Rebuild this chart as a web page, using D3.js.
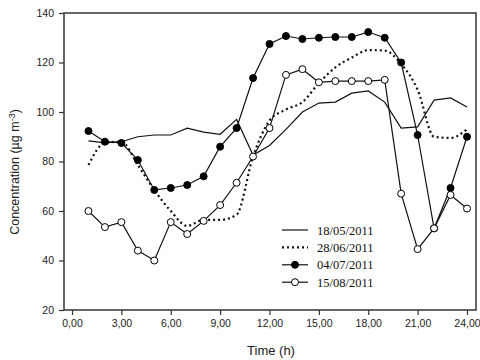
<!DOCTYPE html>
<html>
<head>
<meta charset="utf-8">
<script src="https://cdn.jsdelivr.net/npm/d3@7"></script>
<style>
  body { margin: 0; background: #fff; }
</style>
</head>
<body>
<script>
// hours of the day
const hours = d3.range(1, 25);
const xTicks = [0, 3, 6, 9, 12, 15, 18, 21, 24];
const yTicks = [20, 40, 60, 80, 100, 120, 140];

const s1805 = [88.3, 87.5, 88, 90, 90.7, 90.7, 93.5, 91.9, 91, 97, 82.6, 86.5, 93, 100, 103.6, 104, 107.6, 108.5, 104, 93.5, 94, 104.8, 105.7, 102];
const s2806 = [78.6, 87.5, 88, 78.6, 68.5, 60, 54, 56.4, 56.4, 58.5, 82, 96.5, 101, 104, 111.7, 118, 122, 125, 124.8, 119.4, 109, 90, 89.5, 93];
const s0407 = [92.3, 88, 87.5, 80.6, 68.5, 69.3, 70.5, 74, 86, 93.5, 113.7, 127.5, 130.7, 129.5, 130, 130.3, 130.3, 132.3, 130, 120, 90.7, 53, 69.3, 90];
const s1508 = [60, 53.5, 55.5, 44, 40, 55.5, 50.7, 56, 62.4, 71.4, 82, 93.5, 115, 117.3, 112, 112.5, 112.5, 112.5, 113, 67, 44.6, 53, 66.5, 61];

const series = [
  { name: "18/05/2011", values: s1805, kind: "solid" },
  { name: "28/06/2011", values: s2806, kind: "dotted" },
  { name: "04/07/2011", values: s0407, kind: "filled" },
  { name: "15/08/2011", values: s1508, kind: "open" }
];

const width = 480, height = 360;
const plotL = 64, plotR = 476, plotT = 13, plotB = 310;

const svg = d3.select("body").append("svg")
  .attr("width", width).attr("height", height);

const x = d3.scaleLinear().domain([0, 24]).range([72, 467]);
const y = d3.scaleLinear().domain([20, 140]).range([plotB, plotT]);

// frame
svg.append("rect")
  .attr("x", plotL).attr("y", plotT)
  .attr("width", plotR - plotL).attr("height", plotB - plotT)
  .attr("fill", "none").attr("stroke", "#333").attr("stroke-width", 1.5);

// axes
const xAxis = svg.append("g").attr("transform", "translate(0," + plotB + ")")
  .call(d3.axisBottom(x).tickValues(xTicks).tickSize(5).tickPadding(5)
    .tickFormat(d => d3.format(".2f")(d).replace(".", ",")));
const yAxis = svg.append("g").attr("transform", "translate(" + plotL + ",0)")
  .call(d3.axisLeft(y).tickValues(yTicks).tickSize(5).tickPadding(5));

[xAxis, yAxis].forEach(a => {
  a.select(".domain").remove();
  a.selectAll("line").attr("stroke", "#333").attr("stroke-width", 1.2);
  a.selectAll("text").attr("fill", "#222")
    .style("font-family", "Liberation Sans, Arial, sans-serif")
    .style("font-size", "10.5px");
});

// lines
series.forEach(s => {
  const line = d3.line()
    .x((d, i) => x(hours[i]))
    .y(d => y(d))
    .curve(s.kind == "dotted" ? d3.curveMonotoneX : d3.curveLinear);
  svg.append("path").datum(s.values)
    .attr("d", line)
    .attr("fill", "none")
    .attr("stroke", "#111")
    .attr("stroke-width", s.kind == "dotted" ? 2.2 : 1.2)
    .attr("stroke-dasharray", s.kind == "dotted" ? "2,3" : null);
  if (s.kind == "filled" || s.kind == "open") {
    svg.append("g").selectAll("circle").data(s.values).enter().append("circle")
      .attr("cx", (d, i) => x(hours[i]))
      .attr("cy", d => y(d))
      .attr("r", 3.5)
      .attr("fill", s.kind == "filled" ? "#000" : "#fff")
      .attr("stroke", "#000").attr("stroke-width", 1);
  }
});

// legend
const legend = svg.append("g").attr("transform", "translate(282,230)")
  .selectAll(".legends").data(series).enter().append("g")
  .attr("transform", (d, i) => "translate(0," + i * 17.4 + ")");
legend.append("line")
  .attr("x1", 0).attr("x2", 26).attr("y1", 0).attr("y2", 0)
  .attr("stroke", "#111")
  .attr("stroke-width", d => d.kind == "dotted" ? 2.2 : 1.2)
  .attr("stroke-dasharray", d => d.kind == "dotted" ? "2,3" : null);
legend.filter(d => d.kind == "filled" || d.kind == "open").append("circle")
  .attr("cx", 13).attr("cy", 0).attr("r", 3.5)
  .attr("fill", d => d.kind == "filled" ? "#000" : "#fff")
  .attr("stroke", "#000");
legend.append("text")
  .attr("x", 35).attr("y", 4.5)
  .style("font-family", "Liberation Serif, Times New Roman, serif")
  .style("font-size", "12.5px")
  .attr("fill", "#111")
  .text(d => d.name);

// titles
svg.append("text")
  .attr("x", 271).attr("y", 355)
  .attr("text-anchor", "middle")
  .style("font-family", "Liberation Sans, Arial, sans-serif")
  .style("font-size", "13px").attr("fill", "#222")
  .text("Time (h)");

const yt = svg.append("text")
  .attr("transform", "translate(19,172) rotate(-90)")
  .attr("text-anchor", "middle")
  .style("font-family", "Liberation Sans, Arial, sans-serif")
  .style("font-size", "12.5px").attr("fill", "#222");
yt.append("tspan").text("Concentration (µg m");
yt.append("tspan").attr("dy", -4).style("font-size", "9px").text("-3");
yt.append("tspan").attr("dy", 4).text(")");
</script>
</body>
</html>
